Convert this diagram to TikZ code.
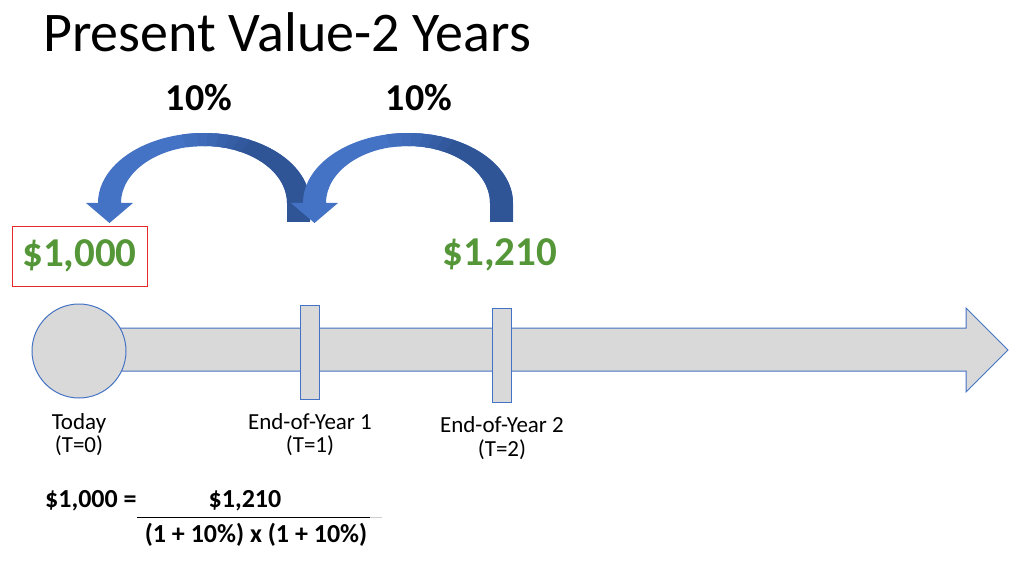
\documentclass[tikz,border=0pt]{standalone}
\usepackage{fontspec}
\setmainfont{Carlito}
\usetikzlibrary{calc}
\definecolor{tlfill}{RGB}{217,217,217}
\definecolor{tlline}{RGB}{68,114,196}
\definecolor{arlight}{RGB}{68,114,196}
\definecolor{ardark}{RGB}{47,85,151}
\definecolor{money}{RGB}{84,150,56}
\definecolor{boxred}{RGB}{230,40,40}
\begin{document}
\begin{tikzpicture}[x=1pt,y=-1pt,
  tl/.style={draw=tlline,fill=tlfill,line width=1pt},
  tick/.style={tl,rectangle,inner sep=0pt,minimum width=19pt,minimum height=94pt},
  lbl/.style={font=\fontsize{23}{25}\selectfont,inner sep=0pt,anchor=base},
  pct/.style={font=\bfseries\fontsize{38}{40}\selectfont,inner sep=0pt,anchor=base},
  amt/.style={font=\bfseries\fontsize{41}{43}\selectfont,text=money,inner sep=0pt},
  frm/.style={font=\bfseries\fontsize{26}{28}\selectfont,inner sep=0pt,anchor=base}]
\useasboundingbox (0,0) rectangle (1024,561);
% title
\node[font=\fontsize{56}{60}\selectfont,inner sep=0pt,anchor=base west] (title) at (43,52) {Present Value-2 Years};
% timeline bar
\draw[tl] (120,328) -- (966,328) -- (966,308) -- (1008,350) -- (966,392) -- (966,371) -- (120,371) -- cycle;
\node[tl,circle,minimum size=94pt,inner sep=0pt] (today) at (79,351) {};
\node[tick] (t1) at (309.5,352) {};
\node[tick] (t2) at (502,355) {};
% labels
\node[lbl] (todayl) at (79,429) {Today};
\node[lbl] (t0l) at (79,452) {(T=0)};
\node[lbl] (y1l) at (310,429) {End-of-Year 1};
\node[lbl] (t1l) at (310,452) {(T=1)};
\node[lbl] (y2l) at (502,432) {End-of-Year 2};
\node[lbl] (t2l) at (502,456) {(T=2)};
% curved arrow 1 (from year 1 to today)
\fill[arlight] (310,222) -- (310,203) arc[start angle=0,end angle=-180,x radius=106,y radius=70]
  -- (86,203) -- (109.5,223) -- (133,203) -- (121,203)
  arc[start angle=-180,end angle=0,x radius=83,y radius=57] -- (287,222) -- cycle;
\fill[ardark] (310,222) -- (310,203) -- (287,203) -- (287,222) -- cycle;
\foreach \a/\b/\p in {0/-66/100,-64/-72/85,-70/-78/70,-76/-84/55,-82/-90/40,-88/-96/25,-94/-102/12}{
  \fill[ardark!\p!arlight] ($(204,203)+(\a:106 and 70)$) arc[start angle=\a,end angle=\b,x radius=106,y radius=70]
    -- ($(204,203)+(\b:83 and 57)$) arc[start angle=\b,end angle=\a,x radius=83,y radius=57] -- cycle;
}
% curved arrow 2 (from year 2 to year 1)
\fill[arlight] (513,222) -- (513,203) arc[start angle=0,end angle=-180,x radius=105,y radius=70]
  -- (291,203) -- (314.5,223) -- (338,203) -- (326,203)
  arc[start angle=-180,end angle=0,x radius=82,y radius=57] -- (490,222) -- cycle;
\fill[ardark] (513,222) -- (513,203) -- (490,203) -- (490,222) -- cycle;
\foreach \a/\b/\p in {0/-66/100,-64/-72/85,-70/-78/70,-76/-84/55,-82/-90/40,-88/-96/25,-94/-102/12}{
  \fill[ardark!\p!arlight] ($(408,203)+(\a:105 and 70)$) arc[start angle=\a,end angle=\b,x radius=105,y radius=70]
    -- ($(408,203)+(\b:82 and 57)$) arc[start angle=\b,end angle=\a,x radius=82,y radius=57] -- cycle;
}
% percentages
\node[pct] (p1) at (199,111) {10\%};
\node[pct] (p2) at (419,111) {10\%};
% amounts
\node[amt,draw=boxred,line width=0.9pt,minimum width=135pt,minimum height=60pt] (pv) at (79.5,256) {\$1,000};
\node[amt,anchor=base] (fv) at (500,265) {\$1,210};
% formula
\node[frm,anchor=base west] (lhs) at (45,507) {\$1,000 =};
\node[frm] (num) at (245,507) {\$1,210};
\node[frm] (den) at (256,542) {(1 + 10\%) x (1 + 10\%)};
\coordinate (fl) at (137,517);
\coordinate (fr) at (370,517);
\coordinate (fe) at (382,517);
\draw[line width=1pt] (fl) -- (fr);
\draw[line width=0.8pt,gray!40] (fr) -- (fe);
\end{tikzpicture}
\end{document}
